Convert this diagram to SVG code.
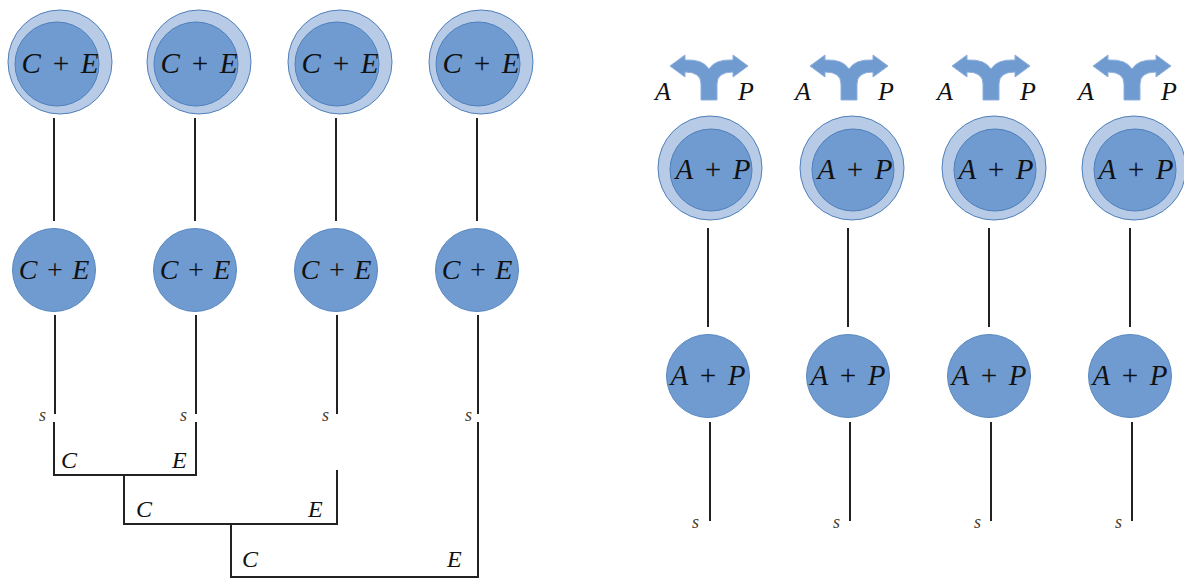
<svg xmlns="http://www.w3.org/2000/svg" width="1184" height="579" viewBox="0 0 1184 579">
<defs>
<style>
.outer{fill:#b7cbe6;stroke:#4f7fbb;stroke-width:1}
.inner{fill:#6f9bd0;stroke:#4f7fbb;stroke-width:1}
.node{fill:#6f9bd0;stroke:#5a88c0;stroke-width:1}
.lbl{font-family:"Liberation Serif",serif;font-style:italic;font-size:29px;word-spacing:3px;fill:#111;text-anchor:middle}
.lm{font-size:28px;word-spacing:1px}
.sm{font-family:"Liberation Serif",serif;font-style:italic;font-size:24px;fill:#111}
.ap{font-size:26px}
.s{font-family:"Liberation Serif",serif;font-style:italic;font-size:18px;fill:#4a3a2a}
.ln{stroke:#222;stroke-width:2;fill:none}
.fork{fill:#6f9bd0;stroke:#8fb0dc;stroke-width:1}
</style>
<path id="forkShape" d="M-8,34 L-8,18 Q-8,6 -24,6 L-24,11 L-39,0 L-24,-11 L-24,-6 Q-6,-7 0,3 Q6,-7 24,-6 L24,-11 L39,0 L24,11 L24,6 Q8,6 8,18 L8,34 Z"/>
</defs>

<g id="connectors">
<line class="ln" x1="54" y1="118" x2="54" y2="221"/>
<line class="ln" x1="195" y1="118" x2="195" y2="221"/>
<line class="ln" x1="336" y1="118" x2="336" y2="221"/>
<line class="ln" x1="477" y1="118" x2="477" y2="221"/>
<line class="ln" x1="55" y1="315" x2="55" y2="414"/>
<line class="ln" x1="196" y1="315" x2="196" y2="414"/>
<line class="ln" x1="337" y1="315" x2="337" y2="414"/>
<line class="ln" x1="478" y1="315" x2="478" y2="414"/>
<path class="ln" d="M54,422 V475 H196 V422"/>
<path class="ln" d="M124,475 V524 H337 V470"/>
<path class="ln" d="M231,524 V577 H478 V422"/>
<line class="ln" x1="708" y1="228" x2="708" y2="327"/>
<line class="ln" x1="848" y1="228" x2="848" y2="327"/>
<line class="ln" x1="989" y1="228" x2="989" y2="327"/>
<line class="ln" x1="1130" y1="228" x2="1130" y2="327"/>
<line class="ln" x1="710" y1="422" x2="710" y2="521"/>
<line class="ln" x1="850" y1="422" x2="850" y2="521"/>
<line class="ln" x1="991" y1="422" x2="991" y2="521"/>
<line class="ln" x1="1132" y1="422" x2="1132" y2="521"/>
</g>

<g id="top-ce-1"><circle class="outer" cx="60" cy="62" r="52"/><circle class="inner" cx="57" cy="64" r="42"/><text class="lbl" x="60" y="73">C + E</text></g>
<g id="top-ce-2"><circle class="outer" cx="199" cy="62" r="52"/><circle class="inner" cx="196" cy="64" r="42"/><text class="lbl" x="199" y="73">C + E</text></g>
<g id="top-ce-3"><circle class="outer" cx="340" cy="62" r="52"/><circle class="inner" cx="337" cy="64" r="42"/><text class="lbl" x="340" y="73">C + E</text></g>
<g id="top-ce-4"><circle class="outer" cx="481" cy="62" r="52"/><circle class="inner" cx="478" cy="64" r="42"/><text class="lbl" x="481" y="73">C + E</text></g>

<g id="mid-ce-1"><circle class="node" cx="54" cy="270" r="41.5"/><text class="lbl lm" x="54" y="279">C + E</text></g>
<g id="mid-ce-2"><circle class="node" cx="195" cy="270" r="41.5"/><text class="lbl lm" x="195" y="279">C + E</text></g>
<g id="mid-ce-3"><circle class="node" cx="336" cy="270" r="41.5"/><text class="lbl lm" x="336" y="279">C + E</text></g>
<g id="mid-ce-4"><circle class="node" cx="477" cy="270" r="41.5"/><text class="lbl lm" x="477" y="279">C + E</text></g>

<g id="left-labels">
<text class="s" x="39" y="421">s</text>
<text class="s" x="180" y="421">s</text>
<text class="s" x="322" y="421">s</text>
<text class="s" x="465" y="421">s</text>
<text class="sm" x="61" y="468">C</text>
<text class="sm" x="172" y="468">E</text>
<text class="sm" x="136" y="517">C</text>
<text class="sm" x="308" y="517">E</text>
<text class="sm" x="242" y="567">C</text>
<text class="sm" x="447" y="567">E</text>
</g>

<g id="fork-1"><use href="#forkShape" class="fork" transform="translate(709,66)"/><text class="sm ap" x="655" y="100">A</text><text class="sm ap" x="738" y="100">P</text></g>
<g id="fork-2"><use href="#forkShape" class="fork" transform="translate(849,66)"/><text class="sm ap" x="795" y="100">A</text><text class="sm ap" x="878" y="100">P</text></g>
<g id="fork-3"><use href="#forkShape" class="fork" transform="translate(991,66)"/><text class="sm ap" x="937" y="100">A</text><text class="sm ap" x="1020" y="100">P</text></g>
<g id="fork-4"><use href="#forkShape" class="fork" transform="translate(1132,66)"/><text class="sm ap" x="1078" y="100">A</text><text class="sm ap" x="1161" y="100">P</text></g>

<g id="top-ap-1"><circle class="outer" cx="710" cy="168" r="52"/><circle class="inner" cx="711" cy="170" r="41"/><text class="lbl" x="713" y="179">A + P</text></g>
<g id="top-ap-2"><circle class="outer" cx="852" cy="168" r="52"/><circle class="inner" cx="853" cy="170" r="41"/><text class="lbl" x="855" y="179">A + P</text></g>
<g id="top-ap-3"><circle class="outer" cx="994" cy="168" r="52"/><circle class="inner" cx="995" cy="170" r="41"/><text class="lbl" x="996" y="179">A + P</text></g>
<g id="top-ap-4"><circle class="outer" cx="1134" cy="168" r="52"/><circle class="inner" cx="1135" cy="170" r="41"/><text class="lbl" x="1136" y="179">A + P</text></g>

<g id="bot-ap-1"><circle class="node" cx="708" cy="376" r="41.5"/><text class="lbl" x="708" y="385">A + P</text></g>
<g id="bot-ap-2"><circle class="node" cx="848" cy="376" r="41.5"/><text class="lbl" x="848" y="385">A + P</text></g>
<g id="bot-ap-3"><circle class="node" cx="989" cy="376" r="41.5"/><text class="lbl" x="989" y="385">A + P</text></g>
<g id="bot-ap-4"><circle class="node" cx="1130" cy="376" r="41.5"/><text class="lbl" x="1130" y="385">A + P</text></g>

<g id="right-labels">
<text class="s" x="692" y="528">s</text>
<text class="s" x="833" y="528">s</text>
<text class="s" x="974" y="528">s</text>
<text class="s" x="1115" y="528">s</text>
</g>
</svg>
